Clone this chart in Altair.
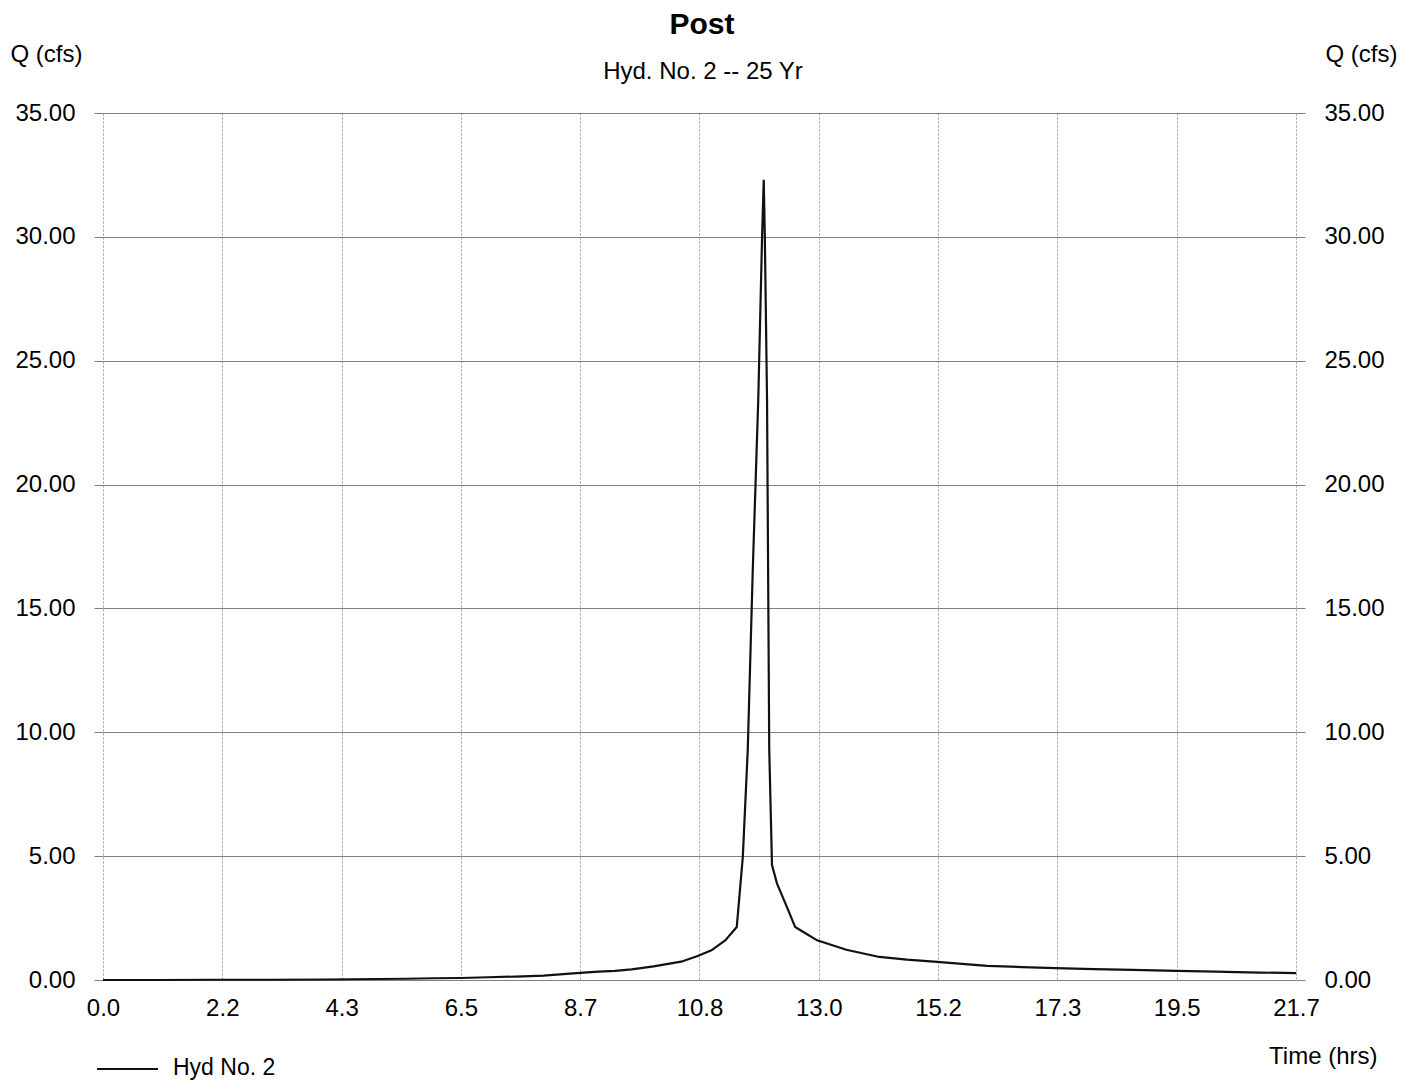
import altair as alt
import pandas as pd

FONT = "Liberation Sans"

# Hydrograph (time in hours, flow in cfs)
time_hrs = [0.0, 1.0, 2.0, 3.0, 4.0, 4.5, 5.0, 5.5, 6.0, 6.5, 7.0, 7.5, 8.0, 8.6,
            9.0, 9.3, 9.6, 10.0, 10.5, 10.8, 11.05, 11.3, 11.51, 11.62, 11.71,
            11.8, 11.9, 11.97, 12.0, 12.02, 12.06, 12.1, 12.15, 12.24, 12.42,
            12.57, 12.75, 12.97, 13.5, 14.1, 14.6, 15.15, 15.6, 16.06, 16.7,
            17.3, 18.0, 18.7, 19.5, 20.2, 21.0, 21.67]
flow_cfs = [0.00, 0.00, 0.01, 0.01, 0.02, 0.03, 0.04, 0.05, 0.07, 0.08, 0.11, 0.14, 0.18, 0.28,
            0.34, 0.37, 0.43, 0.55, 0.74, 0.97, 1.20, 1.60, 2.14, 4.97, 9.30,
            16.5, 23.4, 30.0, 32.3, 30.0, 23.4, 9.30, 4.64, 3.90, 2.95,
            2.14, 1.90, 1.60, 1.22, 0.93, 0.82, 0.73, 0.65, 0.57, 0.52,
            0.48, 0.44, 0.41, 0.37, 0.34, 0.30, 0.28]
series_names = ["Hyd No. 2"]

x_tick_values = [0.0, 2.1667, 4.3333, 6.5, 8.6667, 10.8333, 13.0, 15.1667,
                 17.3333, 19.5, 21.6667]
y_tick_values = [0, 5, 10, 15, 20, 25, 30, 35]

df = pd.DataFrame({"time": time_hrs, "flow": flow_cfs,
                   "series": series_names * len(time_hrs)})

W, H = 1193, 867
LINE_COLOR = "#111111"

x_enc = alt.X(
    "time:Q",
    scale=alt.Scale(domain=[0, 21.6667], nice=False, zero=False),
    axis=alt.Axis(
        values=x_tick_values, format=".1f", grid=True, gridColor="#9a9a9a",
        gridDash=[2, 2], gridWidth=1, ticks=False, domain=False,
        labelFont=FONT, labelFontSize=24, labelColor="#000", labelPadding=16,
        labelFlush=False, labelOverlap=False,
        title="Time (hrs)", titleFont=FONT, titleFontSize=24,
        titleFontWeight="normal", titleColor="#000", titleAlign="right",
        titleAnchor="start", titleBaseline="alphabetic", titleX=1274, titleY=83,
    ),
)

def y_axis(orient, title_x, grid):
    return alt.Axis(
        orient=orient, values=y_tick_values, format=".2f", grid=grid,
        gridColor="#808080", gridWidth=1, tickSize=9, tickColor="#808080",
        domain=False, labelFont=FONT, labelFontSize=24, labelColor="#000",
        labelPadding=19, labelFlush=False, labelOverlap=False,
        title="Q (cfs)", titleFont=FONT, titleFontSize=24,
        titleFontWeight="normal", titleColor="#000", titleAngle=0,
        titleAlign="left", titleBaseline="alphabetic", titleX=title_x, titleY=-52,
    )

y_scale = alt.Scale(domain=[0, 35], nice=False, zero=True)

line = alt.Chart(df).mark_line(strokeWidth=2.2, color=LINE_COLOR).encode(
    x=x_enc,
    y=alt.Y("flow:Q", scale=y_scale, axis=y_axis("left", -93, True)),
    detail="series:N",
)

right = alt.Chart(df).mark_line(opacity=0).encode(
    x=x_enc,
    y=alt.Y("flow:Q", scale=y_scale, axis=y_axis("right", 29, False)),
)

one = pd.DataFrame({"t": ["Post"], "s": ["Hyd. No. 2 -- 25 Yr"],
                    "series": series_names})
title = alt.Chart(one).mark_text(
    font=FONT, fontSize=30, fontWeight="bold", color="#000",
    align="center", baseline="alphabetic",
).encode(text="t:N", x=alt.value(599), y=alt.value(-79))
subtitle = alt.Chart(one).mark_text(
    font=FONT, fontSize=24, color="#000",
    align="center", baseline="alphabetic",
).encode(text="s:N", x=alt.value(600), y=alt.value(-34))

# legend (bottom-left): line sample + series name
legend_line = alt.Chart(one).mark_rule(color=LINE_COLOR, strokeWidth=1.8).encode(
    x=alt.value(-6), x2=alt.value(55), y=alt.value(956),
)
legend_text = alt.Chart(one).mark_text(
    font=FONT, fontSize=23, color="#000", align="left", baseline="middle",
).encode(text="series:N", x=alt.value(70), y=alt.value(955))

chart = (
    alt.layer(line, right, title, subtitle, legend_line, legend_text)
    .resolve_axis(y="independent")
    .properties(
        width=W, height=H,
        autosize=alt.AutoSizeParams(type="none"),
        padding={"left": 95, "top": 105, "right": 110, "bottom": 103},
        background="#ffffff",
    )
    .configure_view(strokeWidth=0)
)

chart.save("out.html", embed_options={"renderer": "svg", "actions": False})
